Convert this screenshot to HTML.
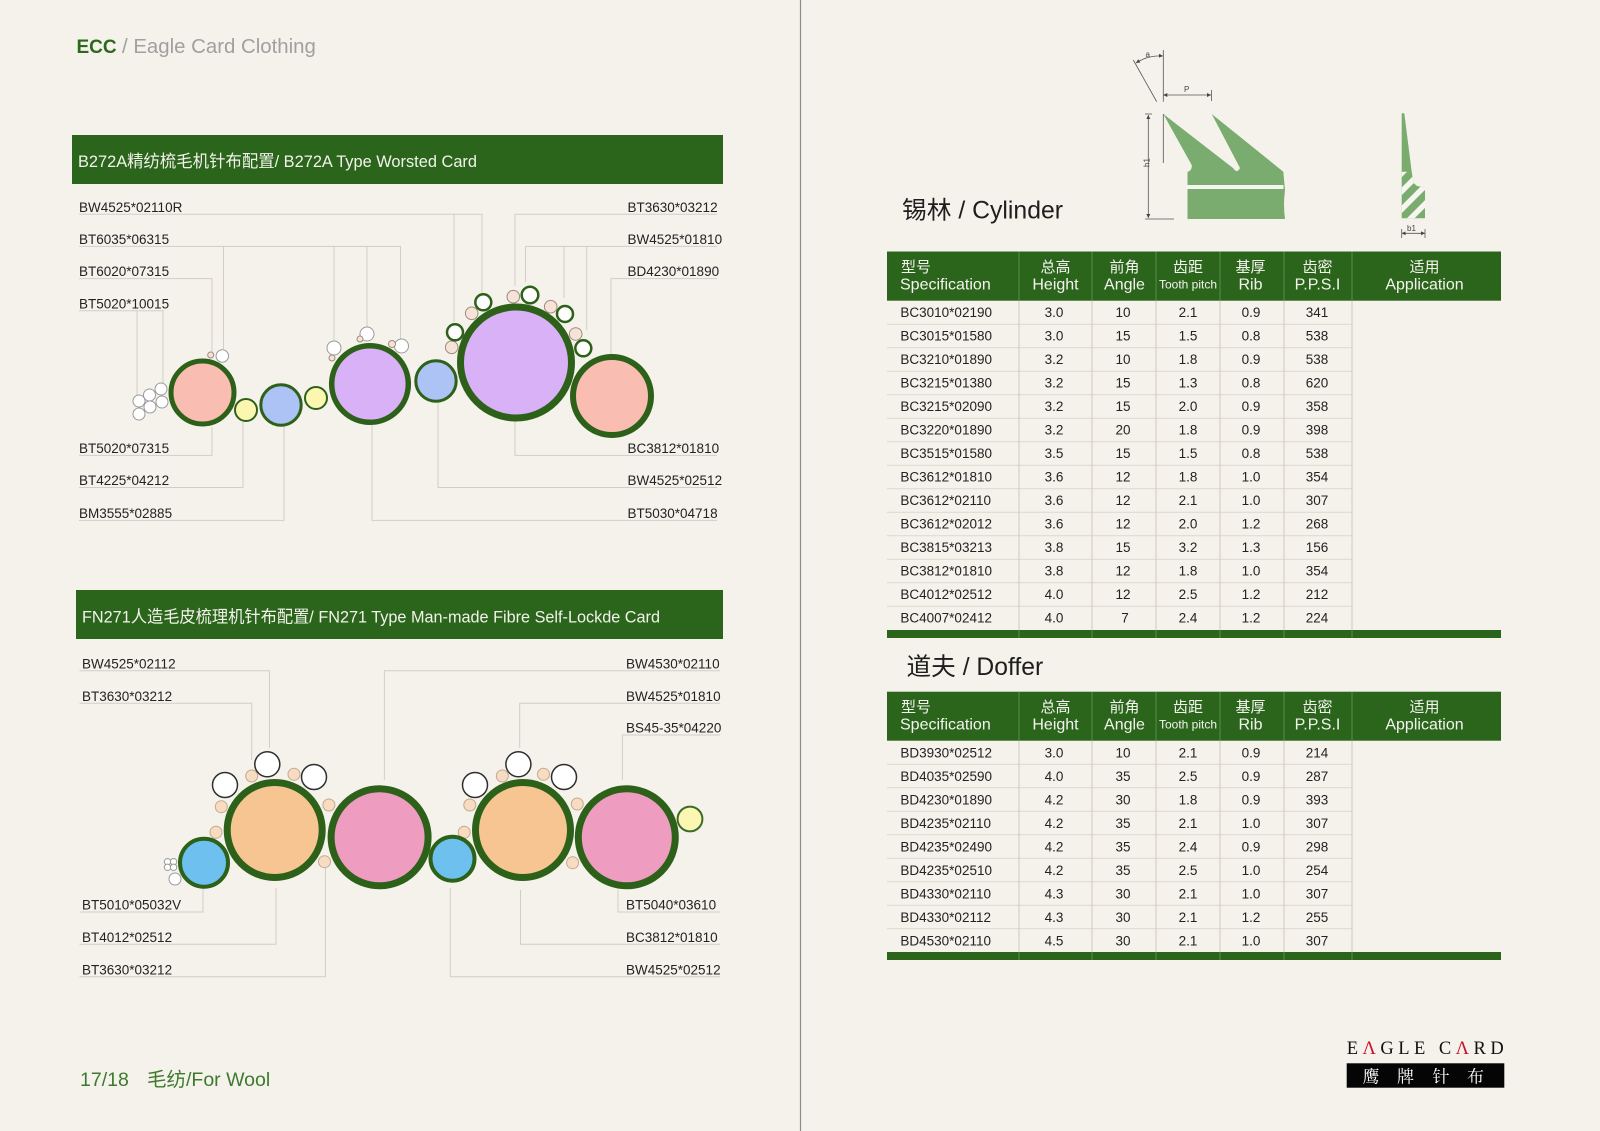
<!DOCTYPE html>
<html><head><meta charset="utf-8"><style>
html,body{margin:0;padding:0;background:#f5f2eb;}
svg{display:block;}
</style></head><body>
<svg xmlns="http://www.w3.org/2000/svg" width="1600" height="1131" viewBox="0 0 1600 1131" font-family="'Liberation Sans','Noto Sans CJK SC',sans-serif">
<defs>
<clipPath id="hatch"><path d="M1401.7 171.7 L1411.7 171.7 L1413.5 183 L1417 186 L1425 187.5 L1425 218.3 L1401.7 218.3 Z"/></clipPath>
<marker id="ar" viewBox="0 0 6 6" refX="6" refY="3" markerWidth="5" markerHeight="5" orient="auto-start-reverse"><path d="M0 0 L6 3 L0 6 Z" fill="#444"/></marker>
</defs>
<rect width="1600" height="1131" fill="#f5f2eb"/>
<line x1="800.5" y1="0" x2="800.5" y2="1131" stroke="#8c8c8c" stroke-width="1.2"/>

<!-- ECC header -->
<text x="76.5" y="53" font-size="19" font-weight="bold" fill="#2b6a1c">ECC</text>
<text x="122" y="53" font-size="20.4" fill="#a0a0a0">/ Eagle Card Clothing</text>

<!-- Section 1 bar -->
<rect x="72" y="135" width="651" height="49" fill="#2b651c"/>
<text x="78" y="167" font-size="16.8" fill="#f2f2ea" textLength="399" lengthAdjust="spacingAndGlyphs">B272A精纺梳毛机针布配置/ B272A Type Worsted Card</text>

<!-- Section 1 leader lines -->
<g stroke="#d2cec6" stroke-width="1" fill="none">
<polyline points="79,214.3 482,214.3 482,293"/>
<line x1="454" y1="214.3" x2="454" y2="322"/>
<polyline points="79,246.4 400.5,246.4 400.5,339"/>
<line x1="223.5" y1="246.4" x2="223.5" y2="349"/>
<line x1="334" y1="246.4" x2="334" y2="341"/>
<line x1="367" y1="246.4" x2="367" y2="327"/>
<polyline points="79,278.6 212,278.6 212,352"/>
<polyline points="79,310.7 163,310.7 163,383"/>
<line x1="137" y1="310.7" x2="137" y2="397"/>
<polyline points="79,455.4 212,455.4 212,427"/>
<polyline points="79,487.5 243,487.5 243,422"/>
<polyline points="79,520.4 284,520.4 284,427"/>
<polyline points="717,214.3 515,214.3 515,286"/>
<polyline points="717,246.4 525.5,246.4 525.5,282"/>
<line x1="564" y1="246.4" x2="564" y2="298"/>
<line x1="586.7" y1="246.4" x2="586.7" y2="330"/>
<polyline points="717,278.6 611,278.6 611,354"/>
<polyline points="717,455.4 515,455.4 515,421"/>
<polyline points="717,487.5 438,487.5 438,403"/>
<polyline points="717,520.4 372,520.4 372,425"/>
</g>

<!-- Section 1 labels -->
<g font-size="13.5" fill="#222">
<text x="79" y="211.9">BW4525*02110R</text>
<text x="79" y="244">BT6035*06315</text>
<text x="79" y="276.2">BT6020*07315</text>
<text x="79" y="308.3">BT5020*10015</text>
<text x="79" y="453">BT5020*07315</text>
<text x="79" y="485.1">BT4225*04212</text>
<text x="79" y="518">BM3555*02885</text>
<text x="627.5" y="211.9">BT3630*03212</text>
<text x="627.5" y="244">BW4525*01810</text>
<text x="627.5" y="276.2">BD4230*01890</text>
<text x="627.5" y="453">BC3812*01810</text>
<text x="627.5" y="485.1">BW4525*02512</text>
<text x="627.5" y="518">BT5030*04718</text>
</g>

<!-- Section 1 small circles -->
<g fill="#ffffff" stroke="#9a9a9a" stroke-width="1">
<circle cx="139" cy="401" r="6"/><circle cx="149.5" cy="395" r="6"/><circle cx="161" cy="389" r="6"/>
<circle cx="150" cy="407" r="6"/><circle cx="162" cy="402" r="6"/><circle cx="139" cy="414" r="6"/>
<circle cx="222.3" cy="356" r="6.2"/>
<circle cx="334" cy="348" r="7"/><circle cx="367" cy="334" r="7"/><circle cx="401.5" cy="346" r="7"/>
</g>
<g fill="#f6e3d8" stroke="#a08a80" stroke-width="1">
<circle cx="210.7" cy="355" r="3"/>
<circle cx="332" cy="358" r="3"/><circle cx="360" cy="339" r="3"/><circle cx="392" cy="344" r="3.5"/>
<circle cx="471.7" cy="313.3" r="6.3"/><circle cx="513.3" cy="296.7" r="6.3"/><circle cx="550.7" cy="306.7" r="6.3"/>
<circle cx="575.7" cy="334" r="6.3"/><circle cx="451.7" cy="347.3" r="6.3"/>
</g>
<g fill="#ffffff" stroke="#2d6119" stroke-width="2.5">
<circle cx="455" cy="332.3" r="8"/><circle cx="483.3" cy="302.3" r="8"/><circle cx="530" cy="295" r="8.3"/>
<circle cx="565" cy="314" r="8"/><circle cx="583.3" cy="348.3" r="8"/>
</g>

<!-- Section 1 big circles -->
<g stroke="#2d6119">
<circle cx="202.5" cy="392.5" r="31.5" fill="#f9bdb1" stroke-width="5"/>
<circle cx="246" cy="410" r="11" fill="#fbf6b0" stroke-width="2"/>
<circle cx="281" cy="405" r="20.2" fill="#adc3f5" stroke-width="3"/>
<circle cx="316" cy="398" r="11" fill="#fbf6b0" stroke-width="2"/>
<circle cx="370" cy="384" r="38.3" fill="#d9b1f6" stroke-width="5.5"/>
<circle cx="436" cy="381" r="20.2" fill="#adc3f5" stroke-width="3"/>
<circle cx="516" cy="362.5" r="55.5" fill="#d9b1f6" stroke-width="7"/>
<circle cx="612" cy="396" r="39" fill="#f9bdb1" stroke-width="6"/>
</g>

<!-- Section 2 bar -->
<rect x="76" y="590" width="647" height="49" fill="#2b651c"/>
<text x="82" y="622.5" font-size="16.8" fill="#f2f2ea" textLength="578" lengthAdjust="spacingAndGlyphs">FN271人造毛皮梳理机针布配置/ FN271 Type Man-made Fibre Self-Lockde Card</text>

<!-- Section 2 leader lines -->
<g stroke="#d2cec6" stroke-width="1" fill="none">
<polyline points="79.5,670.7 269.5,670.7 269.5,748"/>
<polyline points="79.5,703.3 251.7,703.3 251.7,760"/>
<polyline points="79.5,912 203,912 203,888"/>
<polyline points="79.5,944.3 276,944.3 276,888"/>
<polyline points="79.5,976.7 325.4,976.7 325.4,867"/>
<polyline points="720,670.7 384.4,670.7 384.4,780"/>
<polyline points="720,703.3 519.7,703.3 519.7,748"/>
<polyline points="720,735 622.4,735 622.4,780"/>
<polyline points="720,912 618,912 618,890"/>
<polyline points="720,944.3 520.5,944.3 520.5,890"/>
<polyline points="720,976.7 450.3,976.7 450.3,888"/>
</g>

<!-- Section 2 labels -->
<g font-size="13.5" fill="#222">
<text x="82" y="668.3">BW4525*02112</text>
<text x="82" y="700.9">BT3630*03212</text>
<text x="82" y="909.6">BT5010*05032V</text>
<text x="82" y="941.9">BT4012*02512</text>
<text x="82" y="974.3">BT3630*03212</text>
<text x="626" y="668.3">BW4530*02110</text>
<text x="626" y="700.9">BW4525*01810</text>
<text x="626" y="732.6">BS45-35*04220</text>
<text x="626" y="909.6">BT5040*03610</text>
<text x="626" y="941.9">BC3812*01810</text>
<text x="626" y="974.3">BW4525*02512</text>
</g>

<!-- Section 2 small circles -->
<g fill="#ffffff" stroke="#9a9a9a" stroke-width="1">
<circle cx="167.5" cy="861.7" r="3.2"/><circle cx="173.6" cy="861.7" r="3.2"/>
<circle cx="167.5" cy="867.3" r="3.2"/><circle cx="173.6" cy="867.3" r="3.2"/>
<circle cx="175" cy="879" r="6"/>
</g>
<g fill="#f7dcc2" stroke="#c4a890" stroke-width="1">
<circle cx="251.7" cy="776" r="6"/><circle cx="221.3" cy="806.7" r="6"/><circle cx="216" cy="832.3" r="6"/>
<circle cx="294" cy="774.3" r="6"/><circle cx="328.9" cy="805" r="6"/><circle cx="324.5" cy="861.7" r="6"/>
<circle cx="502.3" cy="776" r="6"/><circle cx="469.8" cy="805" r="6"/><circle cx="464.2" cy="832.3" r="6"/>
<circle cx="543.5" cy="774.3" r="6"/><circle cx="577.3" cy="804" r="6"/><circle cx="572.6" cy="862.7" r="6"/>
</g>
<g fill="#ffffff" stroke="#2f2f2f" stroke-width="1.5">
<circle cx="225" cy="785" r="12.5"/><circle cx="267.3" cy="764.3" r="12.5"/><circle cx="314" cy="777" r="12.5"/>
<circle cx="475" cy="785" r="12.5"/><circle cx="518.4" cy="764.3" r="12.5"/><circle cx="564" cy="777" r="12.5"/>
</g>

<!-- Section 2 big circles -->
<g stroke="#2d6119">
<circle cx="204" cy="862.7" r="24" fill="#6ec1ee" stroke-width="4"/>
<circle cx="274.7" cy="830" r="47.5" fill="#f6c591" stroke-width="7"/>
<circle cx="379.6" cy="837.3" r="48.5" fill="#ee9cc0" stroke-width="7"/>
<circle cx="452.5" cy="858.7" r="22" fill="#6ec1ee" stroke-width="4"/>
<circle cx="523" cy="830" r="47.5" fill="#f6c591" stroke-width="7"/>
<circle cx="626.8" cy="837.3" r="48.5" fill="#ee9cc0" stroke-width="7"/>
<circle cx="690" cy="819" r="12.4" fill="#fbf6b2" stroke="#3b6b25" stroke-width="2"/>
</g>

<!-- Footer -->
<text x="80" y="1086" font-size="19.5" fill="#3d7a2e">17/18</text>
<text x="147" y="1086" font-size="19.5" fill="#3d7a2e">毛纺/For Wool</text>

<!-- Tooth profile diagram -->
<path d="M1163.3 114 L1191.7 165 Q1192.5 170 1187.5 172 L1187.5 219 L1285 219 Q1283 205 1285 190 L1283.3 171.7 L1211.7 114 L1240 168 Q1237 174 1233.3 168.3 Z" fill="#7aac6f"/>
<rect x="1187.5" y="185" width="96" height="4" fill="#f7f5ef"/>
<g stroke="#555" stroke-width="0.8" fill="none">
<line x1="1163.3" y1="50" x2="1163.3" y2="101.7"/>
<line x1="1163.3" y1="114" x2="1163.3" y2="163"/>
<line x1="1133.3" y1="60" x2="1156.7" y2="101.7"/>
<path d="M1136 63 Q1148 55 1163 56" marker-start="url(#ar)" marker-end="url(#ar)"/>
<line x1="1163.3" y1="95" x2="1211" y2="95" marker-start="url(#ar)" marker-end="url(#ar)"/>
<line x1="1211.5" y1="90" x2="1211.5" y2="101"/>
<line x1="1148.3" y1="115" x2="1148.3" y2="218" marker-start="url(#ar)" marker-end="url(#ar)"/>
<line x1="1145" y1="114" x2="1152" y2="114"/>
<line x1="1145" y1="219" x2="1174" y2="219"/>
<line x1="1401.7" y1="233.3" x2="1425" y2="233.3" marker-start="url(#ar)" marker-end="url(#ar)"/>
<line x1="1401.7" y1="229" x2="1401.7" y2="238"/>
<line x1="1425" y1="229" x2="1425" y2="238"/>
</g>
<g font-size="8" fill="#444">
<text x="1145.5" y="57">a</text>
<text x="1184" y="92">P</text>
<text x="1145.5" y="171" transform="rotate(-90 1145.5 167)">h1</text>
<text x="1407" y="231">b1</text>
</g>
<path d="M1401.7 113.3 L1404.3 113.3 L1411.7 171.7 L1413.5 183 L1417 186 L1425 187.5 L1425 218.3 L1401.7 218.3 Z" fill="#7aac6f"/>
<g clip-path="url(#hatch)" stroke="#f7f5ef" stroke-width="5.5">
<line x1="1395" y1="180" x2="1430" y2="145"/>
<line x1="1395" y1="198" x2="1430" y2="163"/>
<line x1="1395" y1="216" x2="1430" y2="181"/>
<line x1="1395" y1="234" x2="1430" y2="199"/>
<line x1="1395" y1="252" x2="1430" y2="217"/>
</g>

<!-- Titles -->
<text x="902" y="218.3" font-size="24.7" fill="#1e1e1e" textLength="161" lengthAdjust="spacingAndGlyphs">锡林 / Cylinder</text>
<text x="906.5" y="675" font-size="24.7" fill="#1e1e1e" textLength="136.7" lengthAdjust="spacingAndGlyphs">道夫 / Doffer</text>

<!-- Table 1 -->
<rect x="887" y="251.5" width="614" height="49.2" fill="#2b651c"/>
<rect x="887" y="630" width="614" height="8" fill="#2b651c"/>
<g stroke="#dcd7ce" stroke-width="1">
<line x1="887" y1="324.2" x2="1352" y2="324.2"/><line x1="887" y1="347.7" x2="1352" y2="347.7"/>
<line x1="887" y1="371.2" x2="1352" y2="371.2"/><line x1="887" y1="394.7" x2="1352" y2="394.7"/>
<line x1="887" y1="418.2" x2="1352" y2="418.2"/><line x1="887" y1="441.7" x2="1352" y2="441.7"/>
<line x1="887" y1="465.2" x2="1352" y2="465.2"/><line x1="887" y1="488.7" x2="1352" y2="488.7"/>
<line x1="887" y1="512.2" x2="1352" y2="512.2"/><line x1="887" y1="535.7" x2="1352" y2="535.7"/>
<line x1="887" y1="559.2" x2="1352" y2="559.2"/><line x1="887" y1="582.7" x2="1352" y2="582.7"/>
<line x1="887" y1="606.2" x2="1352" y2="606.2"/>
</g>
<g stroke="#d0cbc1" stroke-width="1">
<line x1="1019" y1="300.7" x2="1019" y2="630"/><line x1="1092" y1="300.7" x2="1092" y2="630"/>
<line x1="1156" y1="300.7" x2="1156" y2="630"/><line x1="1220" y1="300.7" x2="1220" y2="630"/>
<line x1="1284" y1="300.7" x2="1284" y2="630"/><line x1="1352" y1="300.7" x2="1352" y2="630"/>
</g>
<g stroke="#5a8a4a" stroke-width="1">
<line x1="1019" y1="251.5" x2="1019" y2="300.7"/><line x1="1092" y1="251.5" x2="1092" y2="300.7"/>
<line x1="1156" y1="251.5" x2="1156" y2="300.7"/><line x1="1220" y1="251.5" x2="1220" y2="300.7"/>
<line x1="1284" y1="251.5" x2="1284" y2="300.7"/><line x1="1352" y1="251.5" x2="1352" y2="300.7"/>
<line x1="1019" y1="630" x2="1019" y2="638"/><line x1="1092" y1="630" x2="1092" y2="638"/>
<line x1="1156" y1="630" x2="1156" y2="638"/><line x1="1220" y1="630" x2="1220" y2="638"/>
<line x1="1284" y1="630" x2="1284" y2="638"/><line x1="1352" y1="630" x2="1352" y2="638"/>
</g>
<g fill="#f4f4ee">
<g font-size="15">
<text x="901" y="272">型号</text>
<text x="1055.5" y="272" text-anchor="middle">总高</text>
<text x="1124.5" y="272" text-anchor="middle">前角</text>
<text x="1188" y="272" text-anchor="middle">齿距</text>
<text x="1250.5" y="272" text-anchor="middle">基厚</text>
<text x="1317.5" y="272" text-anchor="middle">齿密</text>
<text x="1424.5" y="272" text-anchor="middle">适用</text>
</g>
<g font-size="16">
<text x="900" y="289.3">Specification</text>
<text x="1055.5" y="289.3" text-anchor="middle">Height</text>
<text x="1124.5" y="289.3" text-anchor="middle">Angle</text>
<text x="1250.5" y="289.3" text-anchor="middle">Rib</text>
<text x="1317.5" y="289.3" text-anchor="middle">P.P.S.I</text>
<text x="1424.5" y="289.3" text-anchor="middle">Application</text>
</g>
<text x="1188" y="288.5" font-size="12" text-anchor="middle">Tooth pitch</text>
</g>
<g font-size="13.5" fill="#222">
<g><text x="900.4" y="317.2">BC3010*02190</text><text x="900.4" y="340.7">BC3015*01580</text><text x="900.4" y="364.2">BC3210*01890</text><text x="900.4" y="387.7">BC3215*01380</text><text x="900.4" y="411.2">BC3215*02090</text><text x="900.4" y="434.7">BC3220*01890</text><text x="900.4" y="458.2">BC3515*01580</text><text x="900.4" y="481.7">BC3612*01810</text><text x="900.4" y="505.2">BC3612*02110</text><text x="900.4" y="528.7">BC3612*02012</text><text x="900.4" y="552.2">BC3815*03213</text><text x="900.4" y="575.7">BC3812*01810</text><text x="900.4" y="599.2">BC4012*02512</text><text x="900.4" y="622.7">BC4007*02412</text></g>
<g text-anchor="middle">
<text x="1054" y="317.2">3.0</text><text x="1054" y="340.7">3.0</text><text x="1054" y="364.2">3.2</text><text x="1054" y="387.7">3.2</text><text x="1054" y="411.2">3.2</text><text x="1054" y="434.7">3.2</text><text x="1054" y="458.2">3.5</text><text x="1054" y="481.7">3.6</text><text x="1054" y="505.2">3.6</text><text x="1054" y="528.7">3.6</text><text x="1054" y="552.2">3.8</text><text x="1054" y="575.7">3.8</text><text x="1054" y="599.2">4.0</text><text x="1054" y="622.7">4.0</text>
<text x="1123" y="317.2">10</text><text x="1123" y="340.7">15</text><text x="1123" y="364.2">10</text><text x="1123" y="387.7">15</text><text x="1123" y="411.2">15</text><text x="1123" y="434.7">20</text><text x="1123" y="458.2">15</text><text x="1123" y="481.7">12</text><text x="1123" y="505.2">12</text><text x="1123" y="528.7">12</text><text x="1123" y="552.2">15</text><text x="1123" y="575.7">12</text><text x="1123" y="599.2">12</text><text x="1125" y="622.7">7</text>
<text x="1188" y="317.2">2.1</text><text x="1188" y="340.7">1.5</text><text x="1188" y="364.2">1.8</text><text x="1188" y="387.7">1.3</text><text x="1188" y="411.2">2.0</text><text x="1188" y="434.7">1.8</text><text x="1188" y="458.2">1.5</text><text x="1188" y="481.7">1.8</text><text x="1188" y="505.2">2.1</text><text x="1188" y="528.7">2.0</text><text x="1188" y="552.2">3.2</text><text x="1188" y="575.7">1.8</text><text x="1188" y="599.2">2.5</text><text x="1188" y="622.7">2.4</text>
<text x="1251" y="317.2">0.9</text><text x="1251" y="340.7">0.8</text><text x="1251" y="364.2">0.9</text><text x="1251" y="387.7">0.8</text><text x="1251" y="411.2">0.9</text><text x="1251" y="434.7">0.9</text><text x="1251" y="458.2">0.8</text><text x="1251" y="481.7">1.0</text><text x="1251" y="505.2">1.0</text><text x="1251" y="528.7">1.2</text><text x="1251" y="552.2">1.3</text><text x="1251" y="575.7">1.0</text><text x="1251" y="599.2">1.2</text><text x="1251" y="622.7">1.2</text>
<text x="1317" y="317.2">341</text><text x="1317" y="340.7">538</text><text x="1317" y="364.2">538</text><text x="1317" y="387.7">620</text><text x="1317" y="411.2">358</text><text x="1317" y="434.7">398</text><text x="1317" y="458.2">538</text><text x="1317" y="481.7">354</text><text x="1317" y="505.2">307</text><text x="1317" y="528.7">268</text><text x="1317" y="552.2">156</text><text x="1317" y="575.7">354</text><text x="1317" y="599.2">212</text><text x="1317" y="622.7">224</text>
</g>
</g>

<!-- Table 2 -->
<rect x="887" y="691.7" width="614" height="49" fill="#2b651c"/>
<rect x="887" y="952" width="614" height="8" fill="#2b651c"/>
<g stroke="#dcd7ce" stroke-width="1">
<line x1="887" y1="764.2" x2="1352" y2="764.2"/><line x1="887" y1="787.7" x2="1352" y2="787.7"/>
<line x1="887" y1="811.2" x2="1352" y2="811.2"/><line x1="887" y1="834.7" x2="1352" y2="834.7"/>
<line x1="887" y1="858.2" x2="1352" y2="858.2"/><line x1="887" y1="881.7" x2="1352" y2="881.7"/>
<line x1="887" y1="905.2" x2="1352" y2="905.2"/><line x1="887" y1="928.7" x2="1352" y2="928.7"/>
</g>
<g stroke="#d0cbc1" stroke-width="1">
<line x1="1019" y1="740.7" x2="1019" y2="952"/><line x1="1092" y1="740.7" x2="1092" y2="952"/>
<line x1="1156" y1="740.7" x2="1156" y2="952"/><line x1="1220" y1="740.7" x2="1220" y2="952"/>
<line x1="1284" y1="740.7" x2="1284" y2="952"/><line x1="1352" y1="740.7" x2="1352" y2="952"/>
</g>
<g stroke="#5a8a4a" stroke-width="1">
<line x1="1019" y1="691.7" x2="1019" y2="740.7"/><line x1="1092" y1="691.7" x2="1092" y2="740.7"/>
<line x1="1156" y1="691.7" x2="1156" y2="740.7"/><line x1="1220" y1="691.7" x2="1220" y2="740.7"/>
<line x1="1284" y1="691.7" x2="1284" y2="740.7"/><line x1="1352" y1="691.7" x2="1352" y2="740.7"/>
<line x1="1019" y1="952" x2="1019" y2="960"/><line x1="1092" y1="952" x2="1092" y2="960"/>
<line x1="1156" y1="952" x2="1156" y2="960"/><line x1="1220" y1="952" x2="1220" y2="960"/>
<line x1="1284" y1="952" x2="1284" y2="960"/><line x1="1352" y1="952" x2="1352" y2="960"/>
</g>
<g fill="#f4f4ee">
<g font-size="15">
<text x="901" y="712">型号</text>
<text x="1055.5" y="712" text-anchor="middle">总高</text>
<text x="1124.5" y="712" text-anchor="middle">前角</text>
<text x="1188" y="712" text-anchor="middle">齿距</text>
<text x="1250.5" y="712" text-anchor="middle">基厚</text>
<text x="1317.5" y="712" text-anchor="middle">齿密</text>
<text x="1424.5" y="712" text-anchor="middle">适用</text>
</g>
<g font-size="16">
<text x="900" y="729.3">Specification</text>
<text x="1055.5" y="729.3" text-anchor="middle">Height</text>
<text x="1124.5" y="729.3" text-anchor="middle">Angle</text>
<text x="1250.5" y="729.3" text-anchor="middle">Rib</text>
<text x="1317.5" y="729.3" text-anchor="middle">P.P.S.I</text>
<text x="1424.5" y="729.3" text-anchor="middle">Application</text>
</g>
<text x="1188" y="728.5" font-size="12" text-anchor="middle">Tooth pitch</text>
</g>
<g font-size="13.5" fill="#222">
<g><text x="900.4" y="757.3">BD3930*02512</text><text x="900.4" y="780.8">BD4035*02590</text><text x="900.4" y="804.3">BD4230*01890</text><text x="900.4" y="827.8">BD4235*02110</text><text x="900.4" y="851.3">BD4235*02490</text><text x="900.4" y="874.8">BD4235*02510</text><text x="900.4" y="898.3">BD4330*02110</text><text x="900.4" y="921.8">BD4330*02112</text><text x="900.4" y="945.3">BD4530*02110</text></g>
<g text-anchor="middle">
<text x="1054" y="757.3">3.0</text><text x="1054" y="780.8">4.0</text><text x="1054" y="804.3">4.2</text><text x="1054" y="827.8">4.2</text><text x="1054" y="851.3">4.2</text><text x="1054" y="874.8">4.2</text><text x="1054" y="898.3">4.3</text><text x="1054" y="921.8">4.3</text><text x="1054" y="945.3">4.5</text>
<text x="1123" y="757.3">10</text><text x="1123" y="780.8">35</text><text x="1123" y="804.3">30</text><text x="1123" y="827.8">35</text><text x="1123" y="851.3">35</text><text x="1123" y="874.8">35</text><text x="1123" y="898.3">30</text><text x="1123" y="921.8">30</text><text x="1123" y="945.3">30</text>
<text x="1188" y="757.3">2.1</text><text x="1188" y="780.8">2.5</text><text x="1188" y="804.3">1.8</text><text x="1188" y="827.8">2.1</text><text x="1188" y="851.3">2.4</text><text x="1188" y="874.8">2.5</text><text x="1188" y="898.3">2.1</text><text x="1188" y="921.8">2.1</text><text x="1188" y="945.3">2.1</text>
<text x="1251" y="757.3">0.9</text><text x="1251" y="780.8">0.9</text><text x="1251" y="804.3">0.9</text><text x="1251" y="827.8">1.0</text><text x="1251" y="851.3">0.9</text><text x="1251" y="874.8">1.0</text><text x="1251" y="898.3">1.0</text><text x="1251" y="921.8">1.2</text><text x="1251" y="945.3">1.0</text>
<text x="1317" y="757.3">214</text><text x="1317" y="780.8">287</text><text x="1317" y="804.3">393</text><text x="1317" y="827.8">307</text><text x="1317" y="851.3">298</text><text x="1317" y="874.8">254</text><text x="1317" y="898.3">307</text><text x="1317" y="921.8">255</text><text x="1317" y="945.3">307</text>
</g>
</g>

<!-- Logo -->
<text x="1346.7" y="1054" font-family="'Liberation Serif','Noto Serif CJK SC',serif" font-size="18.5" fill="#111" textLength="157" lengthAdjust="spacing">E<tspan fill="#c8102e">Λ</tspan>GLE C<tspan fill="#c8102e">Λ</tspan>RD</text>
<rect x="1346.7" y="1063.3" width="157.6" height="24.4" fill="#050505"/>
<g font-family="'Liberation Serif','Noto Serif CJK SC',serif" font-size="17" fill="#ffffff">
<text x="1362.5" y="1082.5">鹰</text>
<text x="1397" y="1082.5">牌</text>
<text x="1432.5" y="1082.5">针</text>
<text x="1467" y="1082.5">布</text>
</g>
</svg>
</body></html>
